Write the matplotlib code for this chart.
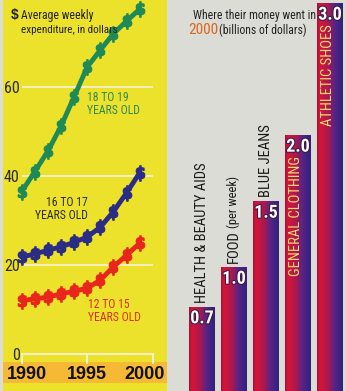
import numpy as np
import matplotlib
matplotlib.use("Agg")
import matplotlib.pyplot as plt
import matplotlib.patheffects as pe
from matplotlib import font_manager as fm
from matplotlib.colors import LinearSegmentedColormap
from matplotlib.patches import Rectangle

# weekly spending by age group (dollars)
years = [1990, 1991, 1992, 1993, 1994, 1995, 1996, 1997, 1998, 1999]
age_18_19 = [36.5, 41.0, 45.6, 51.2, 57.8, 64.5, 68.3, 72.0, 74.8, 77.5]
age_16_17 = [21.8, 22.5, 23.3, 24.1, 25.1, 26.3, 28.5, 32.0, 36.2, 40.7]
age_12_15 = [12.0, 12.4, 12.8, 13.5, 14.1, 14.8, 16.6, 19.6, 22.2, 24.9]
year_ticks = [1990, 1995, 2000]
value_ticks = [0, 20, 40, 60]

# where the money went in 2000 (billions)
categories = ["HEALTH & BEAUTY AIDS", "FOOD", "BLUE JEANS", "GENERAL CLOTHING", "ATHLETIC SHOES"]
spending = [0.7, 1.0, 1.5, 2.0, 3.0]

W, H = 346, 391
YELLOW = "#ECE22C"
ORANGE = "#F5B935"
WHITE = "#F4F1DC"

# look for a narrow face, the original uses a condensed type
names = {f.name for f in fm.fontManager.ttflist}
narrow = [n for n in ["Liberation Sans Narrow", "Roboto Condensed", "Open Sans Condensed",
                      "DejaVu Sans Condensed", "Noto Sans Condensed"] if n in names]
plt.rcParams["font.family"] = narrow + ["DejaVu Sans"]
plt.rcParams["font.stretch"] = "condensed"

fig = plt.figure(figsize=(W / 100, H / 100), dpi=100)
fig.patch.set_facecolor("#DCDCD6")


def px(x, y):
    return x / W, 1 - y / H


# ---- left panel: line chart ----
ax = fig.add_axes([3 / W, 0, 164 / W, 1])
ax.set_facecolor(YELLOW)
ax.set_xlim(1988.57, 2001.09)
ax.set_ylim(-8.31, 79.55)

ax.add_patch(Rectangle((0, 8 / H), 1, 21 / H, transform=ax.transAxes,
                       color=ORANGE, zorder=0, lw=0))

ax.hlines(value_ticks[1:], year_ticks[0], year_ticks[-1], color=WHITE, lw=1.2, zorder=1)

series = [(age_18_19, "#1F8A55"), (age_16_17, "#2A2C86"), (age_12_15, "#E8261C")]
for vals, col in series:
    ax.plot(years, vals, color=col, lw=3.5, zorder=3, solid_capstyle="round")
    ax.plot(years, vals, ls="none", marker=r"$\mathbf{\$}$", ms=11, color=col, zorder=4)

for s in ["top", "right"]:
    ax.spines[s].set_visible(False)
ax.spines["left"].set_position(("data", 1989.85))
ax.spines["left"].set_visible(False)
ax.spines["bottom"].set_position(("data", 0))
ax.spines["bottom"].set_bounds(year_ticks[0], year_ticks[-1])
ax.spines["bottom"].set_color(WHITE)
ax.spines["bottom"].set_linewidth(1.3)

ax.set_xticks(year_ticks)
ax.set_xticklabels([])
ax.tick_params(axis="x", direction="out", length=7, width=1.3, color=WHITE)
for yr, dx in zip(year_ticks, [4, 0, -6]):
    ax.annotate(str(yr), xy=(yr, 0), xytext=(dx, -14.5), textcoords="offset points",
                ha="center", va="center", family="Liberation Sans", stretch="normal",
                fontweight="bold", fontsize=13, color="#111111")
ax.set_yticks(value_ticks)
ax.tick_params(axis="y", length=0, pad=0, labelsize=11.5, labelcolor="#2A2A2A")

ax.text(1994.97, 56.2, "18 TO 19\nYEARS OLD", color="#2E8A4E", fontsize=8.5,
        ha="left", va="center", linespacing=1.05)
ax.text(1995.06, 32.6, "16 TO 17\nYEARS OLD", color="#2A2A2A", fontsize=8.5,
        ha="right", va="center", multialignment="right", linespacing=1.05)
ax.text(1995.06, 9.7, "12 TO 15\nYEARS OLD", color="#D8301E", fontsize=8.5,
        ha="left", va="center", linespacing=1.05)

fig.text(*px(11, 15), "$", fontsize=10, fontweight="bold", color="#222222",
         family="Liberation Sans", va="center")
fig.text(*px(21, 15), "Average weekly", fontsize=8.5, color="#222222", va="center")
fig.text(*px(21, 30), "expenditure, in dollars", fontsize=8, color="#222222", va="center")

# ---- right panel: bars ----
bx = fig.add_axes([180 / W, 0, 166 / W, 1])
bx.set_facecolor(YELLOW)
bx.axis("off")

cmap = LinearSegmentedColormap.from_list(
    "bar", [(0, "#B01038"), (0.12, "#D4163A"), (0.4, "#B0184A"),
            (0.7, "#52248A"), (1, "#31227A")])
grad = np.linspace(0, 1, 64).reshape(1, -1)

pos = np.arange(len(spending))
bars = bx.bar(pos, spending, width=0.81, color="none", lw=0)
for b in bars:
    x0, w, h = b.get_x(), b.get_width(), b.get_height()
    im = bx.imshow(grad, cmap=cmap, aspect="auto", extent=(x0, x0 + w, 0, h), zorder=2)
    im.set_clip_path(b)
bx.set_xlim(-0.6875, 4.5)
bx.set_ylim(0.061, 3.023)

for i, v in enumerate(spending):
    bx.text(i, v - 0.02, f"{v:.1f}", color="white", fontsize=13, fontweight="bold",
            ha="center", va="top", zorder=5,
            path_effects=[pe.withStroke(linewidth=1.5, foreground="#3A1A4A")])

for i in range(3):
    t = bx.text(i, spending[i] + 0.03, categories[i], rotation=90, fontsize=10.5,
                color="#1A1A1A", ha="center", va="bottom", zorder=5)
    if categories[i] == "FOOD":
        food = t
for i in range(3, 5):
    bx.text(i - 0.05, spending[i] - 0.16, categories[i], rotation=90, fontsize=10.5,
            color="#F5D870", ha="center", va="top", zorder=5)

fig.canvas.draw()
hgt = food.get_window_extent().height * 72 / fig.dpi
bx.annotate("(per week)", xy=(1, spending[1] + 0.03), xytext=(-0.5, hgt + 2),
            textcoords="offset points", rotation=90, fontsize=9, color="#1A1A1A",
            ha="center", va="bottom", zorder=5)

fig.text(*px(193, 15), "Where their money went in", fontsize=8.5, color="#222222", va="center")
fig.text(*px(188, 30), "2000", fontsize=11, color="#D9651E", va="center")
fig.text(*px(219, 30), "(billions of dollars)", fontsize=8.5, color="#222222", va="center")

fig.savefig("out.png", dpi=100, facecolor=fig.get_facecolor())
